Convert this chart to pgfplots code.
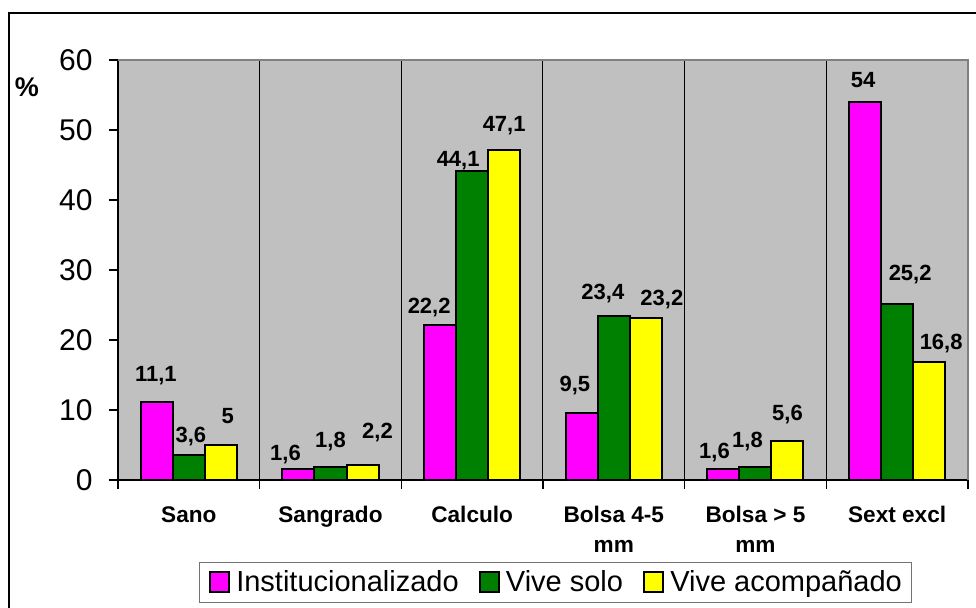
\documentclass[border=0pt]{standalone}
\usepackage{fontspec}
\setmainfont{Liberation Sans}
\usepackage{pgfplots}
\usepackage{pgfplotstable}
\pgfplotsset{compat=1.18}
\definecolor{plotbg}{HTML}{C0C0C0}
\definecolor{cinst}{HTML}{FF00FF}
\definecolor{csolo}{HTML}{008000}
\definecolor{cacomp}{HTML}{FFFF00}

% cat = category, val = value, lab = dx:dy:label (offset of label centre from bar top, pt)
\pgfplotstableread{
cat val lab
0 11.1 -0.5:13.5:11,1
1 1.6 -6.5:7:1,6
2 22.2 -5.5:8.5:22,2
3 9.5 -3.5:14:9,5
4 1.6 -4.5:8:1,6
5 54 -1:10:54
}\tinst
\pgfplotstableread{
cat val lab
0 3.6 1:9:3,6
1 1.8 0:13:1,8
2 44.1 -7:5.5:44,1
3 23.4 -5.5:11.5:23,4
4 1.8 -4:13:1,8
5 25.2 6.5:14.5:25,2
}\tsolo
\pgfplotstableread{
cat val lab
0 5 3.5:13.5:5
1 2.2 7.5:16:2,2
2 47.1 0:12.5:47,1
3 23.2 8:9:23,2
4 5.6 0:13:5,6
5 16.8 6:9.5:16,8
}\tacomp

\def\parselabel#1:#2:#3\relax{\makebox[0pt][c]{\hspace*{#1pt}\hspace*{#1pt}\smash{\raisebox{\dimexpr #2pt - 4pt\relax}{#3}}}}

\pgfplotsset{
  mybar/.style={fill=#1, draw=black, line width=1pt,
    point meta=explicit symbolic,
    nodes near coords={\expandafter\parselabel\pgfplotspointmeta\relax},
    every node near coord/.append style={font=\bfseries\fontsize{11}{13}\selectfont, inner sep=0pt},
    legend image code/.code={\draw[fill=#1,draw=black,line width=1pt] (0pt,-4.6pt) rectangle (9.6pt,5pt);}},
}

\begin{document}
\begin{tikzpicture}
\useasboundingbox (0,0) rectangle (488pt,304pt);
\draw[line width=0.6pt] (4.5pt,0) -- (4.5pt,297.5pt) -- (488pt,297.5pt);
\node[font=\bfseries\fontsize{13.5}{15}\selectfont] at (13.5pt,260.5pt) {\%};
\begin{axis}[
  at={(59pt,64pt)}, anchor=south west,
  scale only axis, width=425pt, height=210pt,
  axis background/.style={fill=plotbg},
  ybar=0pt, bar width=16pt,
  xmin=-0.5, xmax=5.5, ymin=0, ymax=60,
  enlarge x limits=false,
  axis lines*=left,
  axis line style={line width=0.6pt},
  tick align=outside,
  major tick length=4.5pt,
  tick style={black, line width=0.6pt},
  xtick={-0.5,0.5,...,5.5}, xticklabels={},
  xmajorgrids, major x grid style={black, line width=0.5pt},
  extra x ticks={0,1,2,3,4,5},
  extra x tick labels={Sano,Sangrado,Calculo,{Bolsa 4-5\\mm},{Bolsa > 5\\mm},Sext excl},
  extra x tick style={grid=none, major tick length=0pt,
    xticklabel style={font=\bfseries\fontsize{11.3}{15}\selectfont, align=center, anchor=north, inner sep=0pt, yshift=-13pt}},
  ytick={0,10,...,60},
  yticklabel style={font=\fontsize{15}{17}\selectfont, inner sep=0pt, anchor=east, xshift=-8pt},
  /pgf/number format/assume math mode=true,
  legend columns=3,
  legend style={at={(0.5147,-0.195)}, anchor=north, draw=black!55, line width=0.5pt,
    font=\fontsize{14.5}{17}\selectfont, inner xsep=5pt, inner ysep=4pt,
    nodes={inner sep=0pt},
    /tikz/every odd column/.append style={column sep=3pt},
    /tikz/every even column/.append style={column sep=10pt}},
  after end axis/.code={\draw[gray, line width=0.6pt] (rel axis cs:0,1) -- (rel axis cs:1,1) -- (rel axis cs:1,0);},
]
\addplot[mybar=cinst] table[x=cat,y=val,meta=lab] {\tinst};
\addplot[mybar=csolo] table[x=cat,y=val,meta=lab] {\tsolo};
\addplot[mybar=cacomp] table[x=cat,y=val,meta=lab] {\tacomp};
\legend{Institucionalizado, Vive solo, Vive acompañado}
\end{axis}
\end{tikzpicture}
\end{document}
